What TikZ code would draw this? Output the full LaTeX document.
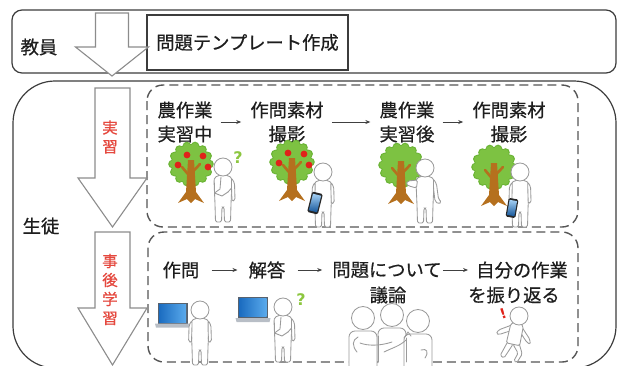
\documentclass[tikz,border=0pt]{standalone}
\usepackage{fontspec}
\setmainfont{Noto Sans CJK JP}[FakeBold=0.6]
\newfontfamily\markfont{DejaVu Sans}
\usetikzlibrary{arrows.meta}

\definecolor{boxline}{HTML}{3C3C3C}
\definecolor{arrowline}{HTML}{8C8C8C}
\definecolor{dashline}{HTML}{555555}
\definecolor{ink}{HTML}{1E1E1E}
\definecolor{stagered}{HTML}{E5483E}
\definecolor{figline}{HTML}{9A9A9A}
\definecolor{leaf}{HTML}{7DC242}
\definecolor{leafedge}{HTML}{6BB436}
\definecolor{bark}{HTML}{B5701E}
\definecolor{apple}{HTML}{E0231A}
\definecolor{hint}{HTML}{8CC63F}
\definecolor{screenA}{HTML}{1B6CC0}
\definecolor{screenB}{HTML}{5AAAEC}
\definecolor{bezel}{HTML}{58626E}
\definecolor{deck}{HTML}{B8BEC6}

\tikzset{
  roundbox/.style={draw=boxline, line width=1.2pt},
  stagebox/.style={draw=dashline, line width=1.4pt, dash pattern=on 9pt off 5pt, rounded corners=16pt},
  blockarrow/.style={draw=arrowline, fill=white, line width=1.1pt, line join=miter},
  lbl/.style={text=ink, font=\fontsize{18.3}{24}\selectfont, align=center, inner sep=0pt},
  stage/.style={text=stagered, font=\fontsize{15.5}{19}\selectfont, align=center, inner sep=0pt},
  flow/.style={draw=ink!85, line width=0.8pt, -{Stealth[length=5pt,width=4pt]}},
  fig/.style={draw=figline, fill=white, line width=0.85pt, rounded corners=1.5pt},
  figl/.style={draw=figline, line width=0.85pt, line cap=round, line join=round},
  hintmark/.style={text=hint, font=\markfont\bfseries\fontsize{16}{16}\selectfont, inner sep=0pt},
  alertmark/.style={text=apple, font=\markfont\bfseries\fontsize{14}{14}\selectfont, inner sep=0pt},
  % a tree: canopy centred on the origin
  tree/.pic={
    \fill[leafedge] (0,0) circle (20);
    \foreach \a in {0,25.7,...,359} \fill[leafedge] (\a:18.5) circle (4.3);
    \fill[leaf] (0,0) circle (19);
    \foreach \a in {0,25.7,...,359} \fill[leaf] (\a:17.8) circle (3.7);
    \fill[bark] (-3,-4) -- (-5,28) -- (-13,39) -- (-4,35) -- (0,39) -- (4,35) -- (13,39) -- (5,28) -- (3,-4) -- cycle;
    \draw[bark, line width=2.6pt, line cap=round] (-1.5,12) -- (-9,3);
    \draw[bark, line width=2.6pt, line cap=round] (1.5,8) -- (9,0);
  },
  apples/.pic={
    \foreach \p in {(-4,-9),(12,-8),(-13,1),(17,3)}
      \fill[apple] \p circle (3.4);
  },
  % standing figure: head centred on the origin
  torso/.pic={
    \path[fig] (-3,8) -- (-8.5,10.5) -- (-9,14) -- (-8,37) -- (-7.5,55) -- (-1.5,55) -- (-1,40)
      -- (1,40) -- (1.5,55) -- (7.5,55) -- (8,37) -- (9,14) -- (8.5,10.5) -- (3,8) -- cycle;
  },
  head/.pic={\path[fig] (0,0) circle (9);},
  person/.pic={
    \pic {torso};
    \path[fig] (-8.5,11) -- (-11.5,16) -- (-12,33) -- (-9,34.5) -- (-8.5,20) -- cycle;
    \path[fig] (8.5,11) -- (11.5,16) -- (12,33) -- (9,34.5) -- (8.5,20) -- cycle;
    \pic {head};
  },
  thinker/.pic={
    \pic {torso};
    \path[fig] (8.5,11) -- (11.5,16) -- (12,33) -- (9,34.5) -- (8.5,20) -- cycle;
    \draw[figl] (-8.5,16) -- (-8.5,26) -- (-1,29) -- (5,25);
    \draw[figl] (-8.5,26) -- (-3,22) -- (-2,10);
    \draw[figl] (5,25) -- (8.5,21);
    \pic {head};
  },
  pointer/.pic={
    \pic {torso};
    \path[fig] (-7.5,12) -- (-17,13) -- (-19,16) -- (-16,18) -- (-8.5,20) -- cycle;
    \path[fig] (8.5,11) -- (11.5,16) -- (13.5,31) -- (16.5,34) -- (13.5,36) -- (10,33) -- (8.5,20) -- cycle;
    \pic {head};
  },
  dancer/.pic={
    \path[fig] (-6,30) -- (-12,50) -- (-7,52) -- (0,34) -- cycle;
    \path[fig] (0,34) -- (8,43) -- (5,53) -- (9,54) -- (13,43) -- (6,30) -- cycle;
    \path[fig] (-6,12) -- (-20,21) -- (-22,26) -- (-18,26) -- (-6,19) -- cycle;
    \path[fig] (6,12) -- (18,24) -- (20,30) -- (15,28) -- (6,19) -- cycle;
    \path[fig] (-3,8) -- (-7.5,11) -- (-8,34) -- (8,34) -- (7.5,11) -- (3,8) -- cycle;
    \pic {head};
  },
  listener/.pic={
    \filldraw[fig, rounded corners=6pt] (-14,48) -- (-14,13) -- (14,13) -- (14,48);
    \path[fig] (0,0) circle (11.5);
  },
  phone/.pic={
    \fill[black!85, rounded corners=1.5pt] (-5.5,-10.5) rectangle (5.5,10.5);
    \shade[top color=screenB!55!white, bottom color=screenA!80!black] (-4.2,-8.5) rectangle (4.2,8.5);
  },
  laptop/.pic={
    \fill[bezel] (-15,-10.5) rectangle (15,10.5);
    \shade[left color=screenA, right color=screenB] (-13.5,-9) rectangle (13.5,9);
    \fill[deck] (-17.5,10.5) -- (17.5,10.5) -- (16.5,14.5) -- (-16.5,14.5) -- cycle;
  }
}

\begin{document}
\begin{tikzpicture}[x=1pt, y=-1pt]
\useasboundingbox (0,0) rectangle (619,365);
\clip (0,0) rectangle (619,365);

% teacher lane
\draw[roundbox, rounded corners=10pt] (12,10) rectangle (616,73);
\node[lbl] (teacher) at (39,47) {教員};
\node[draw=boxline, line width=1.3pt, minimum width=201pt, minimum height=55pt, inner sep=0pt,
      text=ink, font=\fontsize{18.3}{24}\selectfont] (tmpl) at (247.5,42.5) {問題テンプレート作成};
\filldraw[blockarrow] (95.5,13) -- (128.5,13) -- (128.5,47) -- (148.5,47) -- (112,76) -- (75.5,47) -- (95.5,47) -- cycle;

% student lane
\draw[roundbox, rounded corners=42pt] (13,81) rectangle (616,368);
\node[lbl] (student) at (41,226) {生徒};

\draw[stagebox] (147,85) rectangle (578,227);
\draw[stagebox] (148,232) rectangle (578,362);

\filldraw[blockarrow] (95,88) -- (130,88) -- (130,178) -- (147,178) -- (112.5,227) -- (78,178) -- (95,178) -- cycle;
\filldraw[blockarrow] (95,232) -- (130,232) -- (130,308) -- (147,308) -- (112.5,365) -- (78,308) -- (95,308) -- cycle;
\node[stage] (practice) at (110,137) {実\\習};
\node[stage] (review) at (110,289.5) {事\\後\\学\\習};

% farm practice stage
\node[lbl] (r1a) at (185,122) {農作業\\実習中};
\node[lbl] (r1b) at (287,122) {作問素材\\撮影};
\node[lbl] (r1c) at (407,122) {農作業\\実習後};
\node[lbl] (r1d) at (509,122) {作問素材\\撮影};
\draw[flow, shorten <=8pt, shorten >=9pt] (r1a.east) -- (r1b.west);
\draw[flow, shorten <=8pt, shorten >=9pt] (r1b.east) -- (r1c.west);
\draw[flow, shorten <=8pt, shorten >=9pt] (r1c.east) -- (r1d.west);

\pic at (191,164) {tree};
\pic at (191,164) {apples};
\pic at (223,167) {thinker};
\node[hintmark] (q1) at (238,158) {?};

\pic at (292,162) {tree};
\pic at (292,162) {apples};
\pic[scale=0.93] at (323,172) {person};
\pic[rotate=-14] at (315,203) {phone};

\pic at (401,165) {tree};
\pic at (425,168) {pointer};

\pic at (494,167) {tree};
\pic[scale=0.92] at (520,172) {person};
\pic[rotate=-10, scale=0.9] at (512,208) {phone};

% review stage
\node[lbl] (r2a) at (181,270) {作問};
\node[lbl] (r2b) at (267,270) {解答};
\node[lbl] (r2c) at (387,270) {問題について};
\node[lbl] (r2c2) at (388,295) {議論};
\node[lbl] (r2d) at (522,270) {自分の作業};
\node[lbl] (r2d2) at (514,295) {を振り返る};
\draw[flow, shorten <=12pt, shorten >=11pt] (r2a.east) -- (r2b.west);
\draw[flow, shorten <=12pt, shorten >=10pt] (r2b.east) -- (r2c.west);
\draw[flow, shorten <=1pt, shorten >=8pt] (r2c.east) -- (r2d.west);

\pic at (172.5,313) {laptop};
\pic[scale=0.95] at (200,310) {person};

\pic at (253,307.5) {laptop};
\pic at (283,307) {thinker};
\node[hintmark] (q2) at (301,300) {?};

% three people in discussion
\pic at (392,315) {listener};
\pic at (363,318) {listener};
\pic at (418,321) {listener};
\draw[figl] (357,352) .. controls (352,346) and (352,340) .. (358,337);
\draw[figl] (360,343) .. controls (368,346) and (380,346) .. (392,342);
\draw[figl] (384,352) .. controls (392,348) and (400,346) .. (406,340);
\draw[figl] (404,338) -- (408,332) -- (411,336);
\draw[figl] (421,350) .. controls (427,348) and (429,352) .. (425,358);
\draw[figl] (378,336) -- (378,362);
\draw[figl] (406,338) -- (406,362);

\pic[scale=0.85, rotate=-12] at (519,316) {dancer};
\node[alertmark, rotate=18] (alert) at (503,314) {!};
\end{tikzpicture}
\end{document}
